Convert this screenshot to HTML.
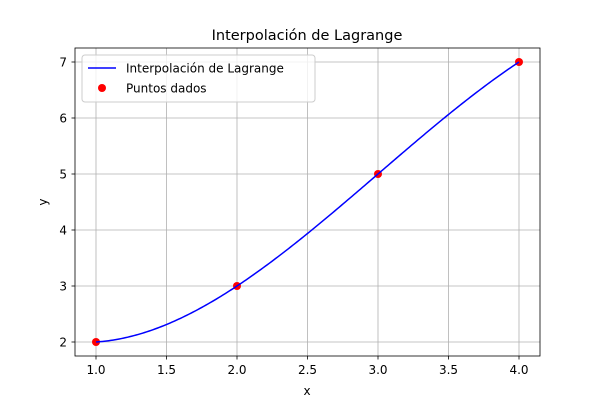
<!DOCTYPE html>
<html><head><meta charset="utf-8"><style>
body{margin:0;background:#fff;}
svg text{font-family:"DejaVu Sans","Liberation Sans",sans-serif;fill:#000;}
</style></head><body>
<svg id="chart" width="600" height="400" xmlns="http://www.w3.org/2000/svg">
<rect width="600" height="400" fill="#fff"/>
<g id="grid"></g>
<g id="axes"></g>
<g id="pts"></g>
<path id="curve" fill="none" stroke="#0000ff" stroke-width="1.5"/>
<rect x="75" y="48" width="465" height="308" fill="none" stroke="#000" stroke-width="0.8"/>
<text x="307" y="40" font-size="14.5" text-anchor="middle">Interpolación de Lagrange</text>
<text x="307" y="395" font-size="12" text-anchor="middle">x</text>
<text x="47" y="202" font-size="12" text-anchor="middle" transform="rotate(-90 47 202)">y</text>
<g>
<rect x="82" y="55" width="233" height="47" rx="3" fill="#fff" fill-opacity="0.8" stroke="#ccc"/>
<line x1="88" y1="68" x2="116" y2="68" stroke="#0000ff" stroke-width="1.5"/>
<text x="126" y="72.5" font-size="12">Interpolación de Lagrange</text>
<circle cx="102" cy="88" r="4" fill="#ff0000"/>
<text x="126" y="92.5" font-size="12">Puntos dados</text>
</g>
</svg>
<script>
const xs=[1,2,3,4];
const ys=[2,3,5,7];
const xTicks=[1.0,1.5,2.0,2.5,3.0,3.5,4.0];
const yTicks=[2,3,4,5,6,7];
const X=v=>96+(v-1)*141;
const Y=v=>342-(v-2)*56;
const NS="http://www.w3.org/2000/svg";
function mk(t,a,p){const e=document.createElementNS(NS,t);for(const k in a)e.setAttribute(k,a[k]);p.appendChild(e);return e;}
const grid=document.getElementById('grid'),axes=document.getElementById('axes');
xTicks.forEach(t=>{
 const g=mk('line',{x1:X(t),x2:X(t),y1:48,y2:356,stroke:'#b0b0b0','stroke-width':0.8},grid);
 
 
 const tk=mk('line',{x1:X(t),x2:X(t),y1:356,y2:359.5,stroke:'#000','stroke-width':0.8},axes);
 
 
 const l=mk('text',{x:X(t),y:374,'font-size':12,'text-anchor':'middle'},axes);l.textContent=t.toFixed(1);
 
 
});
yTicks.forEach(t=>{
 const g=mk('line',{x1:75,x2:540,y1:Y(t),y2:Y(t),stroke:'#b0b0b0','stroke-width':0.8},grid);
 
 
 const tk=mk('line',{x1:71.5,x2:75,y1:Y(t),y2:Y(t),stroke:'#000','stroke-width':0.8},axes);
 
 
 const l=mk('text',{x:67,y:Y(t)+4.5,'font-size':12,'text-anchor':'end'},axes);l.textContent=t;
 
 
});
function lag(x){let s=0;for(let i=0;i<xs.length;i++){let p=ys[i];for(let j=0;j<xs.length;j++)if(j!==i)p*=(x-xs[j])/(xs[i]-xs[j]);s+=p;}return s;}
let d='';const a=Math.min(...xs),b=Math.max(...xs);
for(let k=0;k<=200;k++){const x=a+(b-a)*k/200;d+=(k?'L':'M')+X(x).toFixed(2)+' '+Y(lag(x)).toFixed(2);}
document.getElementById('curve').setAttribute('d',d);
const pts=document.getElementById('pts');
xs.forEach((x,i)=>{
 const c=mk('circle',{cx:X(x),cy:Y(ys[i]),r:4,fill:'#ff0000'},pts);
 
 
});
</script>
</body></html>
